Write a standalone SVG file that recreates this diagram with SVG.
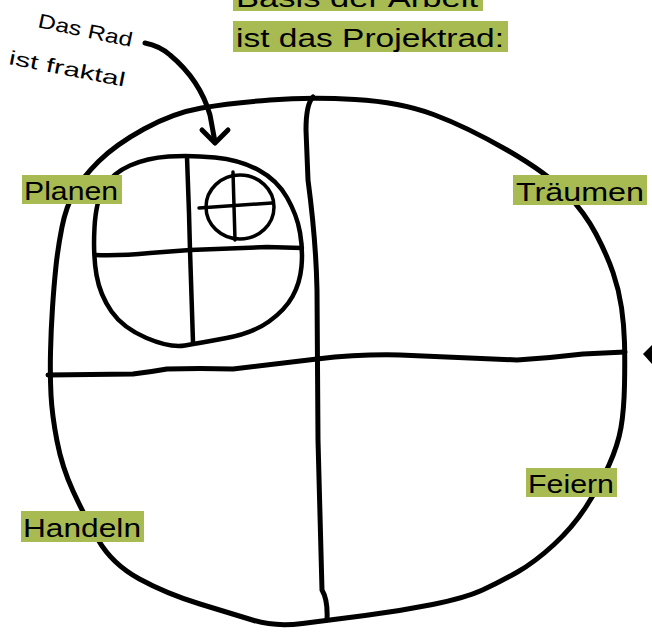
<svg xmlns="http://www.w3.org/2000/svg" width="652" height="636" viewBox="0 0 652 636">
<style>
.ln{fill:none;stroke:#000;stroke-linecap:round;stroke-linejoin:round}
.w5{stroke-width:5}
.w4{stroke-width:4.5}
.w3{stroke-width:3.5}
.hl{fill:#a8bb52}
.t{font-family:"Liberation Sans",Arial,sans-serif;fill:#000}
</style>
<rect width="652" height="636" fill="#fff"/>
<g id="wheel">
<path class="ln w5" d="M51,395 Q50,375 50.5,352.5 Q51,330 52.5,307.5 Q54,285 56,266 Q58,247 62,227 Q66,207 74,192.5 Q82,178 98.5,161.5 Q115,145 144,129 Q173,113 201.5,108 Q230,103 270,100 Q310,97 355,99.5 Q400,102 433.5,114.5 Q467,127 507,150 Q547,173 566,193 Q585,213 596,234 Q607,255 613,272.5 Q619,290 621.5,307.5 Q624,325 624.5,342.5 Q625,360 624.5,385 Q624,410 621,427.5 Q618,445 609,465 Q600,485 586.5,506 Q573,527 554,544.5 Q535,562 517.5,572 Q500,582 482.5,590 Q465,598 432.5,604.5 Q400,611 365,615.5 Q330,620 302.5,623.5 Q275,627 254,620.5 Q233,614 200,604 Q167,594 139.5,579 Q112,564 98,539.5 Q84,515 73,491 Q62,467 57,441 Q52,415 51,395 Z"/>
<path class="ln w5" d="M313,97 Q306,104 306,130 L308,180 Q316,240 317,290 L318,440 L322,590 Q328,600 327,620"/>
<path class="ln w5" d="M48,375 L133,374 Q150,372 167,369 Q200,368 233,369 L317,359 Q360,354 400,355 Q470,358 517,360 Q550,358 583,354 L625,352"/>
</g>
<g id="inner-wheel">
<path class="ln w4" d="M168.5,156.5 Q190,155 215,157.5 Q240,160 258.5,170 Q277,180 287,197.5 Q297,215 300,232.5 Q303,250 301.5,266.5 Q300,283 292.5,296.5 Q285,310 269,321.5 Q253,333 226.5,338 Q200,343 185,345.5 Q170,348 146.5,338 Q123,328 111.5,311.5 Q100,295 96.5,275 Q93,255 94.5,227.5 Q96,200 104.5,186.5 Q113,173 130,165.5 Q147,158 168.5,156.5 Z"/>
<path class="ln w4" d="M187,157 L189,213 L190,250 L193,342"/>
<path class="ln w4" d="M95,255 Q120,256 150,253 L190,250 L267,247 L302,248"/>
</g>
<g id="tiny-wheel">
<ellipse class="ln w3" cx="240" cy="207" rx="34" ry="32"/>
<path class="ln w3" d="M233,172 L235,240 M199,208 L272,203"/>
</g>
<g id="connectors">
<path class="ln w5" d="M145,43 Q160,46 170,55 Q200,80 210,115 L215,142"/>
<path class="ln w5" d="M202,130 L215,143 L228,130"/>
<polygon points="643,354 652,345 652,364" fill="#000"/>
</g>
<g id="title">
<rect class="hl" x="233" y="-20" width="250" height="31"/>
<text class="t" x="236" y="7" font-size="26" textLength="242" lengthAdjust="spacingAndGlyphs">Basis der Arbeit</text>
<rect class="hl" x="233" y="21" width="275" height="31"/>
<text class="t" x="236" y="47" font-size="26" textLength="268" lengthAdjust="spacingAndGlyphs">ist das Projektrad:</text>
</g>
<g id="note">
<text class="t" x="37" y="27" font-size="20" textLength="96" lengthAdjust="spacingAndGlyphs" transform="rotate(12 37 27)">Das Rad</text>
<text class="t" x="8" y="64" font-size="20" textLength="118" lengthAdjust="spacingAndGlyphs" transform="rotate(11 8 64)">ist fraktal</text>
</g>
<g id="planen">
<rect class="hl" x="22" y="175" width="100" height="29"/>
<text class="t" x="24" y="200" font-size="26" textLength="94" lengthAdjust="spacingAndGlyphs">Planen</text>
</g>
<g id="traeumen">
<rect class="hl" x="513" y="175" width="134" height="30"/>
<text class="t" x="516" y="201" font-size="26" textLength="128" lengthAdjust="spacingAndGlyphs">Träumen</text>
</g>
<g id="handeln">
<rect class="hl" x="21" y="511" width="123" height="31"/>
<text class="t" x="23" y="537" font-size="26" textLength="118" lengthAdjust="spacingAndGlyphs">Handeln</text>
</g>
<g id="feiern">
<rect class="hl" x="526" y="468" width="91" height="29"/>
<text class="t" x="528" y="493" font-size="26" textLength="86" lengthAdjust="spacingAndGlyphs">Feiern</text>
</g>
</svg>
